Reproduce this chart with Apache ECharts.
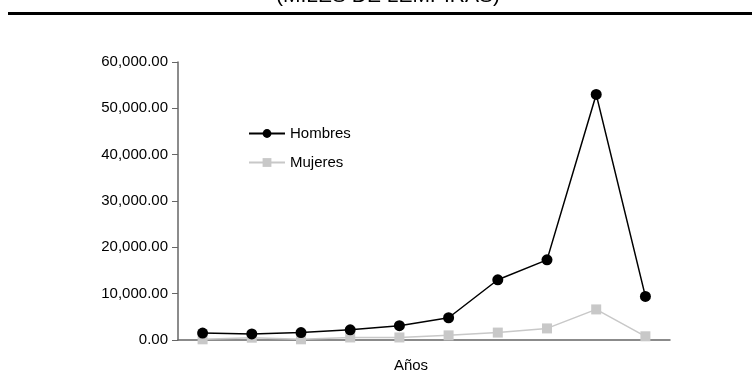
<!DOCTYPE html>
<html>
<head>
<meta charset="utf-8">
<script src="https://cdn.jsdelivr.net/npm/echarts@6/dist/echarts.min.js"></script>
<style>
  html, body { margin: 0; padding: 0; background: #fff; }
  #chart { width: 752px; height: 386px; }
</style>
</head>
<body>
<div id="chart"></div>
<script>
// categorías (años sin etiqueta visible en el original)
const categorias = ["1", "2", "3", "4", "5", "6", "7", "8", "9", "10"];
const hombres = [1500, 1300, 1600, 2200, 3100, 4800, 13000, 17300, 53000, 9400];
const mujeres = [150, 500, 150, 550, 550, 1000, 1600, 2500, 6600, 800];
const yTicks = [0, 10000, 20000, 30000, 40000, 50000, 60000];

const fuente = "Liberation Sans, Arial, sans-serif";

const chart = echarts.init(document.getElementById("chart"));

const option = {
  animation: false,
  backgroundColor: "#fff",
  textStyle: { fontFamily: fuente },
  graphic: [
    {
      type: "text",
      x: 388,
      y: -14,
      style: {
        text: "(MILES DE LEMPIRAS)",
        font: "21px " + fuente,
        fill: "#000",
        align: "center",
      },
    },
    {
      type: "rect",
      shape: { x: 8, y: 12, width: 744, height: 3 },
      style: { fill: "#000" },
    },
    {
      type: "text",
      x: 411,
      y: 358,
      style: { text: "Años", font: "15px " + fuente, fill: "#000", align: "center" },
    },
  ],
  legend: {
    orient: "vertical",
    left: 243,
    top: 121,
    itemWidth: 36,
    itemHeight: 11,
    itemGap: 14,
    textStyle: { fontSize: 15, color: "#000", fontFamily: fuente },
    data: ["Hombres", "Mujeres"],
  },
  grid: { left: 178, right: 82, top: 62, bottom: 46, containLabel: false },
  xAxis: {
    type: "category",
    data: categorias,
    boundaryGap: true,
    axisLine: { lineStyle: { color: "#666", width: 1.5 } },
    axisTick: { show: false },
    axisLabel: { show: false },
  },
  yAxis: {
    type: "value",
    min: yTicks[0],
    max: yTicks[yTicks.length - 1],
    interval: 10000,
    axisLine: { show: true, lineStyle: { color: "#666", width: 1.5 } },
    axisTick: { show: true, length: 6, lineStyle: { color: "#666" } },
    splitLine: { show: false },
    axisLabel: {
      fontSize: 15,
      color: "#000",
      margin: 10,
      fontFamily: fuente,
      formatter: (v) =>
        v.toLocaleString("en-US", { minimumFractionDigits: 2, maximumFractionDigits: 2 }),
    },
  },
  series: [
    {
      name: "Mujeres",
      type: "line",
      data: mujeres,
      symbol: "rect",
      symbolSize: 10,
      itemStyle: { color: "#c8c8c8" },
      lineStyle: { color: "#c8c8c8", width: 1.5 },
      z: 2,
    },
    {
      name: "Hombres",
      type: "line",
      data: hombres,
      symbol: "circle",
      symbolSize: 11,
      itemStyle: { color: "#000" },
      lineStyle: { color: "#000", width: 1.5 },
      z: 3,
    },
  ],
};

chart.setOption(option);
</script>
</body>
</html>
